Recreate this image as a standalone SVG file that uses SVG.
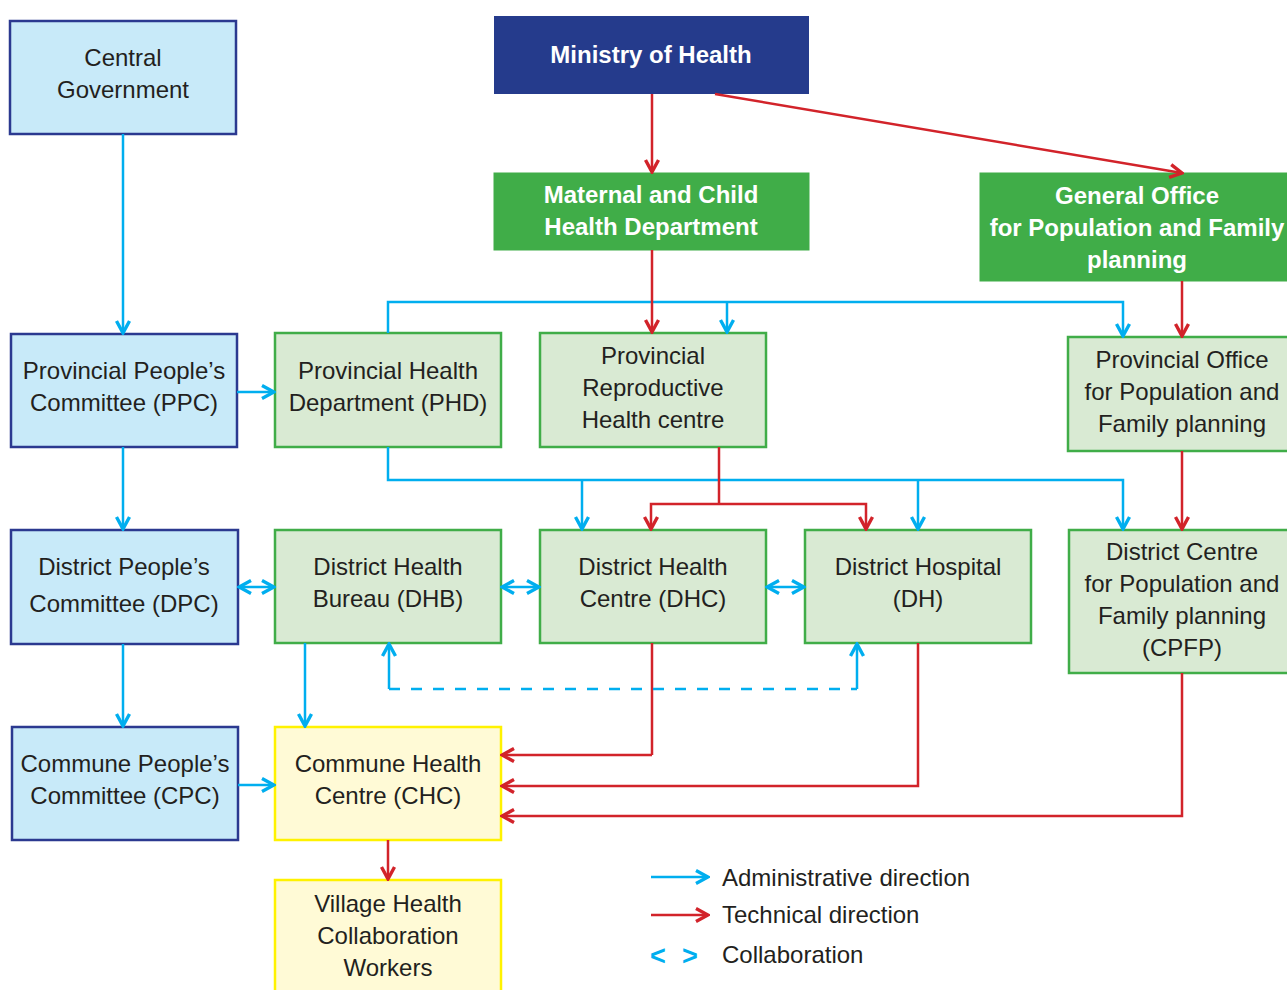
<svg xmlns="http://www.w3.org/2000/svg" width="1287" height="990" viewBox="0 0 1287 990">
<defs>
<marker id="ab" viewBox="0 0 16 16" refX="14" refY="8" markerWidth="16" markerHeight="16" markerUnits="userSpaceOnUse" orient="auto-start-reverse"><path d="M2,1.5 L14,8 L2,14.5" fill="none" stroke="#00aeef" stroke-width="3.4"/></marker>
<marker id="ar" viewBox="0 0 16 16" refX="14" refY="8" markerWidth="16" markerHeight="16" markerUnits="userSpaceOnUse" orient="auto-start-reverse"><path d="M2,1.5 L14,8 L2,14.5" fill="none" stroke="#d2232a" stroke-width="3.4"/></marker>
<style>
text{font-family:"Liberation Sans",Arial,sans-serif;font-size:24px;fill:#231f20;text-anchor:middle}
.w{fill:#fff;font-weight:bold}
.l{text-anchor:start}
.gov{fill:#c8eaf9;stroke:#2b3990;stroke-width:2.5}
.grn{fill:#d9ead3;stroke:#40ad48;stroke-width:2.5}
.sg{fill:#40ad48;stroke:#40ad48;stroke-width:1}
.moh{fill:#253b8c}
.yel{fill:#fffad6;stroke:#fff200;stroke-width:2.5}
.b{fill:none;stroke:#00aeef;stroke-width:2.5}
.r{fill:none;stroke:#d2232a;stroke-width:2.5}
.be{marker-end:url(#ab)}
.re{marker-end:url(#ar)}
.bb{marker-start:url(#ab);marker-end:url(#ab)}
</style>
</defs>
<g id="central-government"><rect class="gov" x="10" y="21" width="226" height="113"/><text x="123" y="66">Central</text><text x="123" y="98">Government</text></g>
<g id="ministry-of-health"><rect class="moh" x="494" y="16" width="315" height="78"/><text class="w" x="651" y="63">Ministry of Health</text></g>
<g id="maternal-child"><rect class="sg" x="494" y="173" width="315" height="77"/><text class="w" x="651" y="203">Maternal and Child</text><text class="w" x="651" y="235">Health Department</text></g>
<g id="general-office"><rect class="sg" x="980" y="173" width="320" height="108"/><text class="w" x="1137" y="204">General Office</text><text class="w" x="1137" y="236">for Population and Family</text><text class="w" x="1137" y="268">planning</text></g>
<g id="ppc"><rect class="gov" x="11" y="334" width="226" height="113"/><text x="124" y="379">Provincial People’s</text><text x="124" y="411">Committee (PPC)</text></g>
<g id="phd"><rect class="grn" x="275" y="333" width="226" height="114"/><text x="388" y="379">Provincial Health</text><text x="388" y="411">Department (PHD)</text></g>
<g id="prhc"><rect class="grn" x="540" y="333" width="226" height="114"/><text x="653" y="364">Provincial</text><text x="653" y="396">Reproductive</text><text x="653" y="428">Health centre</text></g>
<g id="provincial-office"><rect class="grn" x="1068" y="337" width="230" height="114"/><text x="1182" y="368">Provincial Office</text><text x="1182" y="400">for Population and</text><text x="1182" y="432">Family planning</text></g>
<g id="dpc"><rect class="gov" x="11" y="530" width="227" height="114"/><text x="124" y="575">District People’s</text><text x="124" y="612">Committee (DPC)</text></g>
<g id="dhb"><rect class="grn" x="275" y="530" width="226" height="113"/><text x="388" y="575">District Health</text><text x="388" y="607">Bureau (DHB)</text></g>
<g id="dhc"><rect class="grn" x="540" y="530" width="226" height="113"/><text x="653" y="575">District Health</text><text x="653" y="607">Centre (DHC)</text></g>
<g id="dh"><rect class="grn" x="805" y="530" width="226" height="113"/><text x="918" y="575">District Hospital</text><text x="918" y="607">(DH)</text></g>
<g id="cpfp"><rect class="grn" x="1069" y="530" width="230" height="143"/><text x="1182" y="560">District Centre</text><text x="1182" y="592">for Population and</text><text x="1182" y="624">Family planning</text><text x="1182" y="656">(CPFP)</text></g>
<g id="cpc"><rect class="gov" x="12" y="727" width="226" height="113"/><text x="125" y="772">Commune People’s</text><text x="125" y="804">Committee (CPC)</text></g>
<g id="chc"><rect class="yel" x="275" y="727" width="226" height="113"/><text x="388" y="772">Commune Health</text><text x="388" y="804">Centre (CHC)</text></g>
<g id="village"><rect class="yel" x="275" y="880" width="226" height="120"/><text x="388" y="912">Village Health</text><text x="388" y="944">Collaboration</text><text x="388" y="976">Workers</text></g>
<g id="connectors">
<path class="b be" d="M123,134 V333"/>
<path class="b be" d="M123,447 V529"/>
<path class="b be" d="M123,644 V726"/>
<path class="b be" d="M237,392 H274"/>
<path class="b be" d="M238,785 H274"/>
<path class="b be" d="M388,333 V302 H1123 V336"/>
<path class="b be" d="M727,302 V332"/>
<path class="b be" d="M388,447 V480 H1123 V529"/>
<path class="b be" d="M582,480 V529"/>
<path class="b be" d="M918,480 V529"/>
<path class="b be" d="M305,643 V726"/>
<path class="b bb" d="M239,587 H274"/>
<path class="b bb" d="M502,587 H539"/>
<path class="b bb" d="M767,587 H804"/>
<path class="r" d="M652,643 V755"/>
<path class="b" d="M389,689 H857" stroke-dasharray="11 11"/>
<path class="b be" d="M389,689 V644"/>
<path class="b be" d="M857,689 V644"/>
<path class="r re" d="M652,94 V172"/>
<path class="r re" d="M715,94 L1182,173"/>
<path class="r re" d="M652,250 V332"/>
<path class="r re" d="M1182,281 V336"/>
<path class="r" d="M719,447 V504"/>
<path class="r re" d="M719,504 H651 V529"/>
<path class="r re" d="M719,504 H866 V529"/>
<path class="r re" d="M1182,451 V529"/>
<path class="r re" d="M652,755 H502"/>
<path class="r re" d="M918,643 V786 H502"/>
<path class="r re" d="M1182,673 V816 H502"/>
<path class="r re" d="M388,840 V879"/>
</g>
<g id="legend">
<path class="b be" d="M651,877 H708"/>
<path class="r re" d="M651,915 H708"/>
<text x="650" y="965" class="l" style="fill:#00aeef;font-weight:bold;font-size:27px">&lt;</text>
<text x="682" y="965" class="l" style="fill:#00aeef;font-weight:bold;font-size:27px">&gt;</text>
<text class="l" x="722" y="886">Administrative direction</text>
<text class="l" x="722" y="923">Technical direction</text>
<text class="l" x="722" y="963">Collaboration</text>
</g>
</svg>
